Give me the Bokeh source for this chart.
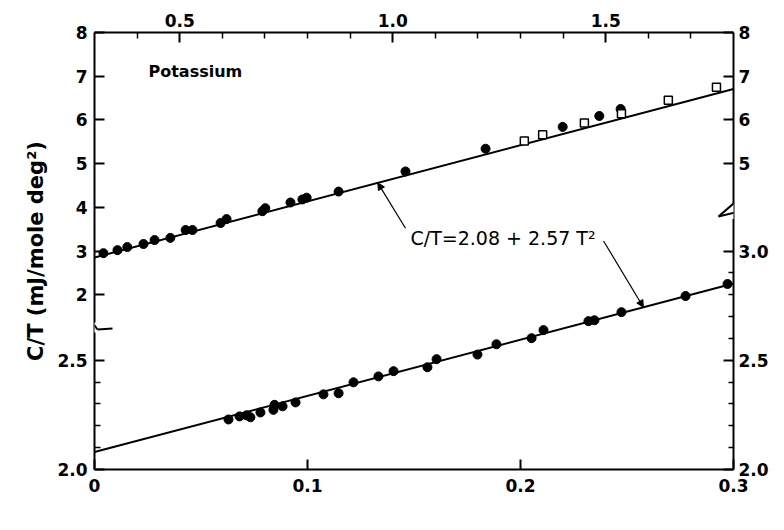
import math
import numpy as np
from bokeh.plotting import figure
from bokeh.models import (Range1d, LinearAxis, FixedTicker, Label, Arrow,
                          NormalHead)
from bokeh.embed import file_html
from bokeh.resources import INLINE

# ---------------- data ----------------
# fit  C/T = a + b T^2
fit_a = 2.08
fit_b = 2.57

# upper set (top T^2 scale, upper C/T scale)
upper_filled_x = [0.321, 0.354, 0.377, 0.415, 0.441, 0.478, 0.514, 0.530, 0.596, 0.610,
                  0.694, 0.701, 0.760, 0.788, 0.798, 0.873, 1.030, 1.218, 1.399, 1.485, 1.535]
upper_filled_y = [2.95, 3.02, 3.09, 3.16, 3.25, 3.30, 3.48, 3.48, 3.64, 3.73,
                  3.91, 3.98, 4.11, 4.18, 4.22, 4.36, 4.82, 5.34, 5.84, 6.09, 6.25]
upper_open_x = [1.309, 1.352, 1.450, 1.537, 1.647, 1.760]
upper_open_y = [5.52, 5.66, 5.93, 6.14, 6.45, 6.75]

# lower set (bottom T^2 scale, lower C/T scale)
lower_x = [0.0629, 0.0681, 0.0714, 0.0732, 0.0779, 0.0840, 0.0845, 0.0883, 0.0944, 0.1075,
           0.1146, 0.1216, 0.1333, 0.1404, 0.1563, 0.1606, 0.1798, 0.1887, 0.2052, 0.2108,
           0.2319, 0.2347, 0.2474, 0.2775, 0.2972]
lower_y = [2.229, 2.243, 2.248, 2.239, 2.261, 2.273, 2.296, 2.289, 2.307, 2.344,
           2.349, 2.399, 2.426, 2.450, 2.468, 2.505, 2.526, 2.573, 2.601, 2.638,
           2.679, 2.683, 2.720, 2.794, 2.849]

# axis tick positions (axis units) and their labels
left_ticks = [0, 5, 8, 10, 12, 14, 16, 18, 20]
left_labels = ["2.0", "2.5", "2", "3", "4", "5", "6", "7", "8"]
left_minor = [1, 2, 3, 4]
right_ticks = [0, 5, 10, 14, 16, 18, 20]
right_labels = ["2.0", "2.5", "3.0", "5", "6", "7", "8"]
right_minor = [1, 2, 3, 4, 6, 7, 8, 9]
bottom_ticks = [0, 10, 20, 30]
bottom_labels = ["0", "0.1", "0.2", "0.3"]
top_ticks = [5, 10, 15]
top_labels = ["0.5", "1.0", "1.5"]
top_minor = [4, 6, 7, 8, 9, 11, 12, 13, 14, 16, 17]

FONT = "DejaVu Sans"

p = figure(width=784, height=530, output_backend="svg", toolbar_location=None,
           x_range=Range1d(0, 30), y_range=Range1d(0, 20),
           x_axis_type=None, y_axis_type=None,
           min_border_left=94, min_border_right=51, min_border_top=32, min_border_bottom=61)
p.outline_line_color = None
p.background_fill_color = "white"
p.extra_x_ranges = {"low_x": Range1d(0, 0.3), "up_x": Range1d(0.3, 1.8), "top_ax": Range1d(3, 18)}
p.extra_y_ranges = {"low_y": Range1d(2.0, 4.0), "up_y": Range1d(-2.0, 8.0)}


def style(ax, minor_len=6):
    ax.axis_line_width = 2
    ax.axis_line_color = "black"
    ax.major_tick_line_width = 2
    ax.minor_tick_line_width = 1.5
    ax.major_tick_in = 10
    ax.major_tick_out = 0
    ax.minor_tick_in = minor_len
    ax.minor_tick_out = 0
    ax.major_label_text_font = FONT
    ax.major_label_text_font_size = "17px"
    ax.major_label_text_font_style = "bold"
    ax.major_label_text_color = "black"
    ax.major_label_standoff = 7


left = LinearAxis(ticker=FixedTicker(ticks=left_ticks, minor_ticks=left_minor),
                  major_label_overrides=dict(zip(left_ticks, left_labels)),
                  axis_label="C/T (mJ/mole deg²)")
style(left)
left.axis_label_text_font = FONT
left.axis_label_text_font_size = "21px"
left.axis_label_text_font_style = "bold"
left.axis_label_text_color = "black"
left.axis_label_standoff = 6
p.add_layout(left, "left")

right = LinearAxis(ticker=FixedTicker(ticks=right_ticks, minor_ticks=right_minor),
                   major_label_overrides=dict(zip(right_ticks, right_labels)))
style(right, 5)
right.major_label_standoff = 5
p.add_layout(right, "right")

bottom = LinearAxis(ticker=FixedTicker(ticks=bottom_ticks, minor_ticks=[]),
                    major_label_overrides=dict(zip(bottom_ticks, bottom_labels)))
style(bottom)
bottom.major_label_standoff = 9
p.add_layout(bottom, "below")

top = LinearAxis(x_range_name="top_ax", ticker=FixedTicker(ticks=top_ticks, minor_ticks=top_minor),
                 major_label_overrides=dict(zip(top_ticks, top_labels)))
style(top)
top.major_label_standoff = 6
p.add_layout(top, "above")

# fit lines
xl = np.array([0.0, 0.3])
p.line(xl, fit_a + fit_b * xl, x_range_name="low_x", y_range_name="low_y",
       line_color="black", line_width=2)
xu = np.array([0.3, 1.8])
p.line(xu, fit_a + fit_b * xu, x_range_name="up_x", y_range_name="up_y",
       line_color="black", line_width=2)

# points
p.scatter(lower_x, lower_y, x_range_name="low_x", y_range_name="low_y",
          size=9, fill_color="black", line_color="black")
p.scatter(upper_filled_x, upper_filled_y, x_range_name="up_x", y_range_name="up_y",
          size=9, fill_color="black", line_color="black")
p.scatter(upper_open_x, upper_open_y, x_range_name="up_x", y_range_name="up_y",
          marker="square", size=8, fill_color="white", line_color="black", line_width=1.5)

# annotation arrows
up_tip = 0.965
p.add_layout(Arrow(end=NormalHead(size=7, fill_color="black", line_color="black"),
                   x_start=1.030, y_start=3.52, x_end=up_tip, y_end=fit_a + fit_b * up_tip,
                   x_range_name="up_x", y_range_name="up_y", line_width=1.2))
low_tip = 0.2577
p.add_layout(Arrow(end=NormalHead(size=7, fill_color="black", line_color="black"),
                   x_start=0.239, y_start=3.046, x_end=low_tip, y_end=fit_a + fit_b * low_tip,
                   x_range_name="low_x", y_range_name="low_y", line_width=1.2))

# ---- axis breaks (gap + zigzag) ----
px = 639 / 30.0
py = 437 / 20.0


def X(v):
    return (v - 94) / px


def Y(v):
    return (469 - v) / py


def gap(cx, cy, h):
    # small white box drawn as a label background (labels are not clipped to the frame)
    p.add_layout(Label(x=X(cx), y=Y(cy), text=" ", text_font_size="%dpx" % h, padding=2,
                       background_fill_color="white", text_align="center",
                       text_baseline="middle"))


def seg(pts, color="black", width=2):
    for (a, b), (c, d) in zip(pts[:-1], pts[1:]):
        p.add_layout(Arrow(end=None, x_start=X(a), y_start=Y(b), x_end=X(c), y_end=Y(d),
                           line_color=color, line_width=width))


# white gaps in the axis lines
gap(94, 327, 6)
gap(733, 211, 10)
# zigzag marks: parts inside the box as segments
seg([(92, 322), (97, 329), (112, 328)])
seg([(733, 203), (718, 216), (739, 211)])
# part of the left mark that lies outside the box: a short dash (unclipped text)
p.add_layout(Label(x=X(94), y=Y(323.5), text="\u2014", text_font=FONT,
                   text_font_style="bold", text_color="black", text_font_size="17px",
                   text_align="right", text_baseline="middle"))

# texts
p.add_layout(Label(x=X(148), y=Y(70.5), text="Potassium", text_font=FONT, text_color="black",
                   text_font_size="16px", text_font_style="bold", text_baseline="middle"))
p.add_layout(Label(x=X(410), y=Y(237), text="C/T=2.08 + 2.57 T²", text_font=FONT,
                   text_color="black", text_font_size="19px", text_baseline="middle"))
p.add_layout(Label(x=X(355), y=Y(511), text="T²  (°K)²", text_font=FONT, text_color="black",
                   text_font_size="19px", text_font_style="bold", text_baseline="middle"))
p.add_layout(Label(x=X(739), y=Y(523), text="MU-31523", text_font=FONT, text_color="black",
                   text_font_size="7px", text_font_style="bold", text_baseline="middle",
                   text_align="center"))

open("out.html", "w").write(file_html(p, INLINE))
